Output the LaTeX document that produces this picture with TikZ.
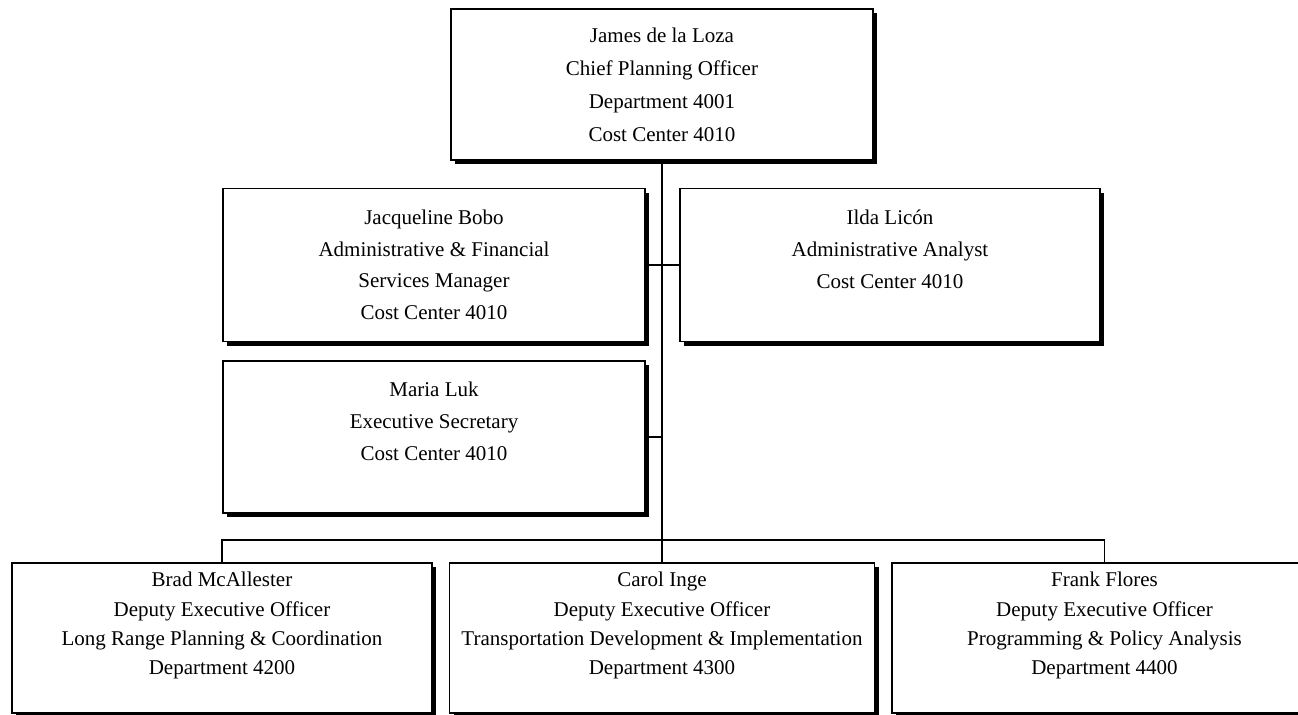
\documentclass[tikz,border=0pt]{standalone}
\usepackage{fontspec}
\setmainfont{Liberation Serif}
\usetikzlibrary{shadows}

\tikzset{
	person/.style={%
		draw,
		line width=0.65pt,
		fill=white,
		align=center,
		inner sep=0pt,
		drop shadow={shadow xshift=2.2pt, shadow yshift=-2.2pt, fill=black, opacity=1}
	},
	chiefBox/.style={person, minimum width=211pt, minimum height=75.5pt,
		font=\fontsize{10.5}{16.5}\selectfont},
	staffBox/.style={person, minimum width=211pt, minimum height=76.5pt,
		font=\fontsize{10.5}{15.8}\selectfont},
	deputyBox/.style={person, minimum width=211pt, minimum height=75pt,
		font=\fontsize{10.5}{14.6}\selectfont},
	link/.style={line width=0.6pt}
}

\begin{document}
\begin{tikzpicture}[x=0.5pt, y=-0.5pt]
	\useasboundingbox[fill=white] (0,0) rectangle (1298,715);

	% chief
	\node[chiefBox] (loza) at (662,84.5)
		{James de la Loza\\Chief Planning Officer\\Department 4001\\Cost Center 4010};

	% staff
	\node[staffBox] (bobo) at (434,265)
		{Jacqueline Bobo\\Administrative \& Financial\\Services Manager\\Cost Center 4010};
	\node[staffBox, minimum width=210pt] (licon) at (890,265)
		{Ilda Licón\\Administrative Analyst\\Cost Center 4010\\\mbox{}};
	\node[staffBox, minimum height=76pt] (luk) at (434,437)
		{Maria Luk\\Executive Secretary\\Cost Center 4010\\\mbox{}};

	% deputies
	\node[deputyBox, minimum width=210pt] (brad) at (222,638)
		{Brad McAllester\\Deputy Executive Officer\\Long Range Planning \& Coordination\\Department 4200\\\mbox{}};
	\node[deputyBox, minimum width=212.5pt] (inge) at (662,638)
		{Carol Inge\\Deputy Executive Officer\\Transportation Development \& Implementation\\Department 4300\\\mbox{}};
	\node[deputyBox, minimum width=212.5pt] (flores) at (1104.5,638)
		{Frank Flores\\Deputy Executive Officer\\Programming \& Policy Analysis\\Department 4400\\\mbox{}};

	\coordinate (bus) at (662,540);

	\draw[link] (loza) -- (inge);
	\draw[link] (bobo) -- (licon);
	\draw[link] (luk.east) -- (luk.east -| loza.south);
	\draw[link] (brad.north) |- (bus) -| (flores.north);
\end{tikzpicture}
\end{document}
